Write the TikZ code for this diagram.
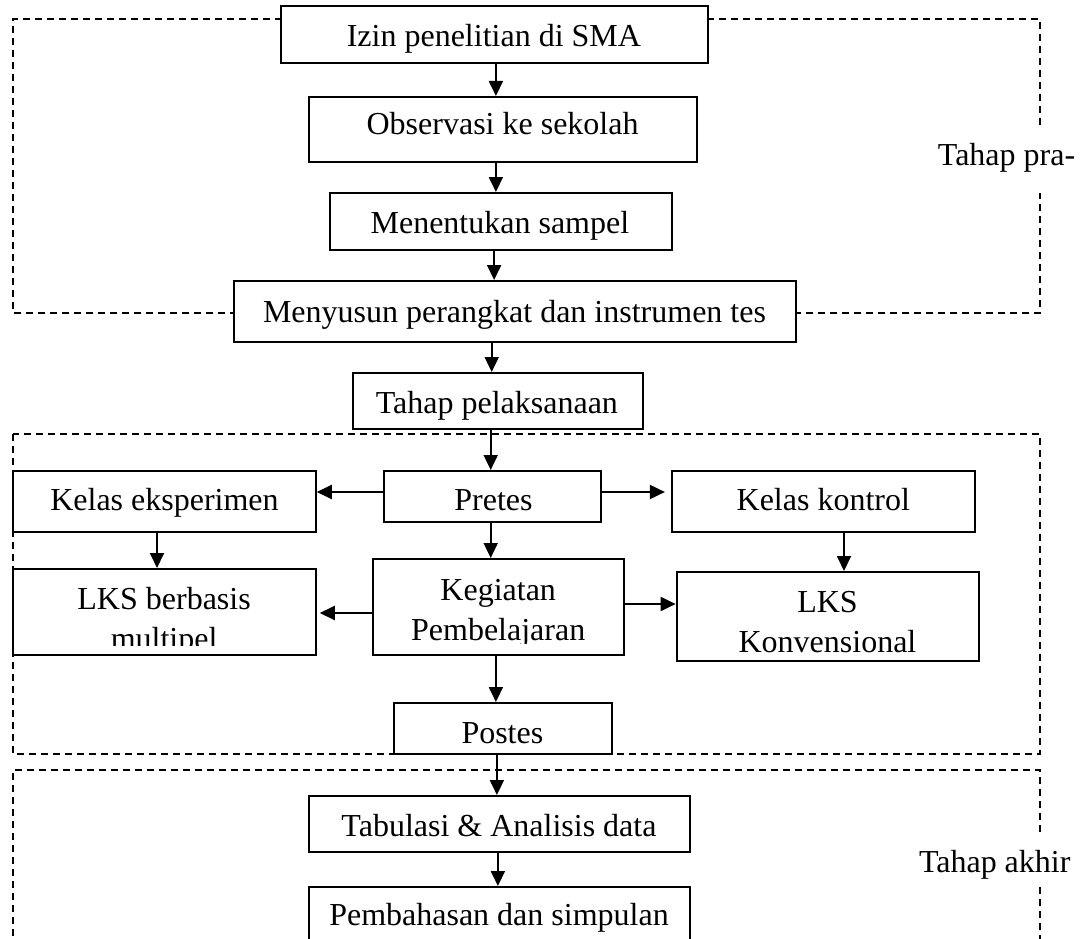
\documentclass[tikz,border=0pt]{standalone}
\usepackage{fontspec}
\setmainfont{Liberation Serif}
\usetikzlibrary{arrows.meta}
\newcommand{\diagfont}{\fontsize{32}{40}\selectfont}
\begin{document}
\begin{tikzpicture}[x=1pt,y=-1pt,
  box/.style={draw, line width=2pt, fill=white, inner sep=0pt},
  txt/.style={inner sep=0pt, anchor=base, font=\diagfont},
  arr/.style={line width=1.9pt, -{Triangle[length=15pt,width=14pt]}},
  dashframe/.style={line width=1.7pt, dash pattern=on 7pt off 5pt}]
\useasboundingbox (0,0) rectangle (1081,939);
\clip (0,0) rectangle (1081,939);

% dashed phase frames
\draw[dashframe] (1040,125) -- (1040,19) -- (13,19) -- (13,313) -- (1040,313) -- (1040,193);
\draw[dashframe] (13,434) rectangle (1040,754);
\draw[dashframe] (1040,832) -- (1040,770) -- (13,770) -- (13,960);
\draw[dashframe] (1040,887) -- (1040,960);

% boxes
\node[box, minimum width=427pt, minimum height=57pt] (izin) at (494.2,34.5) {};
\node[box, minimum width=388.5pt, minimum height=65pt] (obs) at (503.1,129.5) {};
\node[box, minimum width=342pt, minimum height=57pt] (sampel) at (500.5,221.5) {};
\node[box, minimum width=562pt, minimum height=61pt] (menyusun) at (515.3,311.5) {};
\node[box, minimum width=289.6pt, minimum height=56pt] (pelaks) at (497.8,401) {};
\node[box, minimum width=217pt, minimum height=51pt] (pretes) at (492.5,496.5) {};
\node[box, minimum width=302.7pt, minimum height=61pt] (eksp) at (164.4,501.5) {};
\node[box, minimum width=303pt, minimum height=61pt] (kontrol) at (823.4,501.5) {};
\node[box, minimum width=302.7pt, minimum height=86pt] (lksm) at (164.4,612) {};
\node[box, minimum width=251.8pt, minimum height=96pt] (keg) at (498.5,607) {};
\node[box, minimum width=302.3pt, minimum height=89pt] (lksk) at (827.8,616.5) {};
\node[box, minimum width=217.3pt, minimum height=51pt] (postes) at (503,728.5) {};
\node[box, minimum width=381.2pt, minimum height=56pt] (tab) at (499.5,824) {};
\node[box, minimum width=381.2pt, minimum height=61pt] (pemb) at (499.5,917.5) {};

% texts
\node[txt] (tizin) at (493.9,47) {Izin penelitian di SMA};
\node[txt] (tobs) at (502.6,135) {Observasi ke sekolah};
\node[txt] (tsampel) at (499.9,233) {Menentukan sampel};
\node[txt] (tmenyusun) at (514.5,322) {Menyusun perangkat dan instrumen tes};
\node[txt] (tpelaks) at (496.9,413) {Tahap pelaksanaan};
\node[txt] (tpretes) at (493.5,510) {Pretes};
\node[txt] (teksp) at (164.5,510) {Kelas eksperimen};
\node[txt] (tkontrol) at (823.3,510) {Kelas kontrol};
\begin{scope}
  \clip (13,569) rectangle (316,645);
  \node[txt] (tlksm1) at (164.1,609) {LKS berbasis};
  \node[txt] (tlksm2) at (164.1,649) {multipel};
\end{scope}
\begin{scope}
  \clip (372,559) rectangle (624,643);
  \node[txt] (tkeg1) at (498.2,600) {Kegiatan};
  \node[txt] (tkeg2) at (498.2,640) {Pembelajaran};
\end{scope}
\node[txt] (tlksk1) at (827.5,612) {LKS};
\node[txt] (tlksk2) at (827.5,652) {Konvensional};
\node[txt] (tpostes) at (502.4,743) {Postes};
\node[txt] (ttab) at (499,836) {Tabulasi \& Analisis data};
\node[txt] (tpemb) at (499,925) {Pembahasan dan simpulan};

% phase labels
\node[txt, anchor=base west] (lpra) at (937.7,165) {Tahap pra-};
\node[txt, anchor=base west] (lakhir) at (918.8,872) {Tahap akhir};

% connector guide coordinates
\coordinate (cA) at (495.9,0);
\coordinate (cB) at (494.1,0);
\coordinate (cC) at (491.7,0);
\coordinate (cD) at (490.7,0);
\coordinate (cE) at (496.9,0);
\coordinate (cF) at (497.9,0);
\coordinate (cL) at (157,0);
\coordinate (cR) at (844,0);
\coordinate (r492) at (0,492);
\coordinate (r613) at (0,613);
\coordinate (r604) at (0,604);

% connectors
\draw[arr] (izin.south -| cA) -- (obs.north -| cA);
\draw[arr] (obs.south -| cA) -- (sampel.north -| cA);
\draw[arr] (sampel.south -| cB) -- (menyusun.north -| cB);
\draw[arr] (menyusun.south -| cC) -- (pelaks.north -| cC);
\draw[arr] (pelaks.south -| cD) -- (pretes.north -| cD);
\draw[arr] (pretes.west |- r492) -- (eksp.east |- r492);
\draw[arr, shorten >=6pt] (pretes.east |- r492) -- (kontrol.west |- r492);
\draw[arr] (pretes.south -| cD) -- (keg.north -| cD);
\draw[arr] (eksp.south -| cL) -- (lksm.north -| cL);
\draw[arr] (kontrol.south -| cR) -- (lksk.north -| cR);
\draw[arr, shorten >=3pt] (keg.west |- r613) -- (lksm.east |- r613);
\draw[arr] (keg.east |- r604) -- (lksk.west |- r604);
\draw[arr] (keg.south -| cA) -- (postes.north -| cA);
\draw[arr] (postes.south -| cE) -- (tab.north -| cE);
\draw[arr] (tab.south -| cF) -- (pemb.north -| cF);
\end{tikzpicture}
\end{document}
